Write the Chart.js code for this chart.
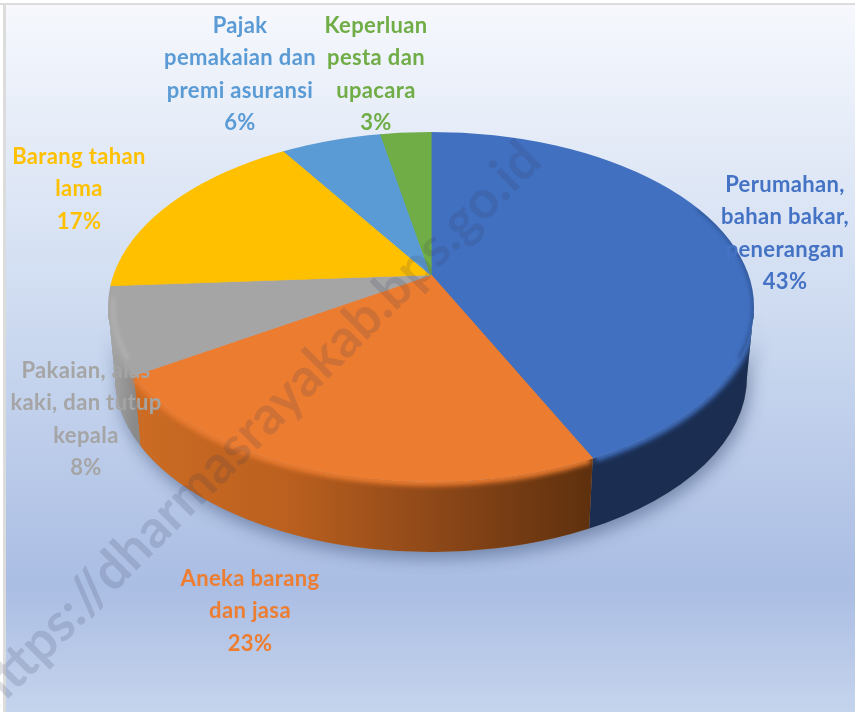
<!DOCTYPE html>
<html><head><meta charset="utf-8">
<style>html,body{margin:0;padding:0;background:#fff}canvas{display:block}</style>
<script src="https://cdn.jsdelivr.net/npm/chart.js@4"></script>
</head><body>
<canvas id="c" width="855" height="712"></canvas>
<script>
const categories = ["Perumahan, bahan bakar, penerangan","Aneka barang dan jasa","Pakaian, alas kaki, dan tutup kepala","Barang tahan lama","Pajak pemakaian dan premi asuransi","Keperluan pesta dan upacara"];
const values = [43,23,8,17,6,3];
const labelLines = [["Perumahan,","bahan bakar,","penerangan"],["Aneka barang","dan jasa"],["Pakaian, alas","kaki, dan tutup","kepala"],["Barang tahan","lama"],["Pajak","pemakaian dan","premi asuransi"],["Keperluan","pesta dan","upacara"]];
const colors = ["#4170c0","#ec7c30","#a5a5a5","#ffc000","#5b9bd5","#70ad47"];
const labelColors = ["#4472c4","#ed7d31","#a5a5a5","#ffc000","#5b9bd5","#70ad47"];
const wallStops = [["#1b2e52","#1b2e52"],["#cc6c24","#bb601f","#8c4718","#5e300e"],["#a8a8a8","#8a8a8a"],["#a08000","#a08000"],["#3a6a9a","#3a6a9a"],["#4a7530","#4a7530"]];
const labelCenters = [[785,185],[250,579],[86,371],[79,157],[240,26],[376,26]];
const watermark = "https://dharmasrayakab.bps.go.id";

const G = {ax:431, ay:275, a:420, ratio:0.534, cx:431, cy:307, rx:323, ry:175, bcy:377, brx:316};

function rimAngle(theta){
  const dx = G.a*Math.cos(theta), dy = G.a*G.ratio*Math.sin(theta);
  const px=(G.ax-G.cx)/G.rx, py=(G.ay-G.cy)/G.ry, qx=dx/G.rx, qy=dy/G.ry;
  const A=qx*qx+qy*qy, B=2*(px*qx+py*qy), C=px*px+py*py-1;
  const t=(-B+Math.sqrt(B*B-4*A*C))/(2*A);
  return Math.atan2(py+t*qy, px+t*qx);
}
function unwrap(phi, min){ while(phi<min) phi+=2*Math.PI; while(phi>=min+2*Math.PI) phi-=2*Math.PI; return phi; }

const pie3d = {
  id:'pie3d',
  beforeDraw(chart){
    const {ctx,width,height}=chart;
    ctx.save();
    ctx.fillStyle='#ffffff'; ctx.fillRect(0,0,width,height);
    ctx.fillStyle='#dcdcdc'; ctx.fillRect(0,3,width,2); ctx.fillRect(3,3,3,height);
    const g=ctx.createLinearGradient(0,5,0,height);
    g.addColorStop(0,'#f6f8fd'); g.addColorStop(0.42,'#cfdcf1'); g.addColorStop(0.82,'#aabde3'); g.addColorStop(1,'#c5d4ed');
    ctx.fillStyle=g; ctx.fillRect(6,5,width-6,height-5);
    ctx.restore();
  },
  beforeDatasetsDraw(chart){
    const {ctx}=chart; const arcs=chart.getDatasetMeta(0).data;
    ctx.save();
    ctx.shadowColor='rgba(45,65,105,0.45)'; ctx.shadowBlur=16; ctx.shadowOffsetY=7; ctx.shadowOffsetX=3;
    ctx.fillStyle='#8c8c8c';
    ctx.beginPath(); ctx.ellipse(G.cx,G.bcy,G.brx,G.ry,0,0,Math.PI); ctx.ellipse(G.cx,G.cy,G.rx,G.ry,0,Math.PI,0,true); ctx.closePath(); ctx.fill();
    ctx.restore();
    const spans=arcs.map(arc=>{
      const p1=unwrap(rimAngle(arc.startAngle),-Math.PI/2-1e-6);
      let p2=unwrap(rimAngle(arc.endAngle),-Math.PI/2-1e-6);
      if(p2<p1) p2+=2*Math.PI;
      return [Math.max(p1,0),Math.min(p2,Math.PI)];
    });
    chart.$spans=spans;
    arcs.forEach((arc,i)=>{
      const [a,b]=spans[i]; if(b<=a) return;
      const x1=G.cx+G.rx*Math.cos(b), x2=G.cx+G.rx*Math.cos(a);
      const g=ctx.createLinearGradient(x1,0,x2,0);
      wallStops[i].forEach((c,k,l)=>g.addColorStop(k/(l.length-1),c));
      ctx.fillStyle=g;
      ctx.beginPath(); ctx.ellipse(G.cx,G.cy,G.rx,G.ry,0,a,b); ctx.ellipse(G.cx,G.bcy,G.brx,G.ry,0,b,a,true); ctx.closePath(); ctx.fill();
    });
    ctx.save();
    ctx.beginPath(); ctx.ellipse(G.cx,G.cy,G.rx,G.ry,0,0,2*Math.PI); ctx.clip();
    const R=arcs[0].outerRadius;
    ctx.translate(G.ax,G.ay); ctx.scale(G.a/R,G.a*G.ratio/R); ctx.translate(-arcs[0].x,-arcs[0].y);
  },
  afterDatasetsDraw(chart){
    const {ctx}=chart; ctx.restore();
    const spans=chart.$spans;
    ctx.save();
    ctx.beginPath(); ctx.ellipse(G.cx,G.bcy,G.brx,G.ry,0,0,Math.PI); ctx.ellipse(G.cx,G.cy,G.rx,G.ry,0,Math.PI,0,true); ctx.closePath(); ctx.clip();
    ctx.filter='blur(2.5px)'; ctx.lineWidth=8; ctx.lineCap='butt';
    spans.forEach(([a,b],i)=>{
      if(b<=a) return;
      ctx.strokeStyle=colors[i];
      ctx.beginPath(); ctx.ellipse(G.cx,G.cy,G.rx,G.ry,0,a+0.01,b-0.01); ctx.stroke();
    });
    ctx.restore();
    ctx.save();
    ctx.beginPath(); ctx.ellipse(G.cx,G.cy,G.rx,G.ry,0,0,2*Math.PI); ctx.clip();
    ctx.filter='blur(2px)'; ctx.strokeStyle='rgba(20,40,80,0.5)'; ctx.lineWidth=3;
    ctx.beginPath(); ctx.ellipse(G.cx,G.cy,G.rx,G.ry,0,-0.6,0.3); ctx.stroke();
    ctx.strokeStyle='rgba(255,255,255,0.15)'; ctx.lineWidth=4;
    ctx.beginPath(); ctx.ellipse(G.cx,G.cy,G.rx-5,G.ry-4,0,Math.PI*0.9,Math.PI*1.02); ctx.stroke();
    ctx.restore();
  },
  afterDraw(chart){
    const {ctx}=chart;
    ctx.save();
    ctx.filter='blur(0.45px)';
    ctx.font='bold 22px Lato'; ctx.textAlign='center'; ctx.textBaseline='middle';
    ctx.letterSpacing='0.35px';
    categories.forEach((_,i)=>{
      ctx.fillStyle=labelColors[i];
      const lines=[...labelLines[i], values[i]+'%'];
      lines.forEach((t,k)=>ctx.fillText(t,labelCenters[i][0],labelCenters[i][1]+k*32.4));
    });
    ctx.restore();
    ctx.save();
    ctx.filter='blur(0.7px)';
    ctx.translate(-6,713); ctx.rotate(-Math.PI/4);
    ctx.font='bold 45px Lato'; ctx.textAlign='left'; ctx.textBaseline='alphabetic';
    const fit=778/ctx.measureText(watermark).width;
    ctx.font='bold '+(45*fit).toFixed(1)+'px Lato';
    ctx.fillStyle='rgba(50,55,85,0.16)';
    ctx.fillText(watermark,0,0);
    ctx.restore();
  }
};

new Chart(document.getElementById('c'),{
  type:'pie',
  data:{labels:categories,datasets:[{data:values,backgroundColor:colors,borderColor:colors,borderWidth:1,clip:false}]},
  options:{responsive:false,animation:false,layout:{padding:10},
    plugins:{legend:{display:false},tooltip:{enabled:false},title:{display:false}}},
  plugins:[pie3d]
});
</script>
</body></html>
